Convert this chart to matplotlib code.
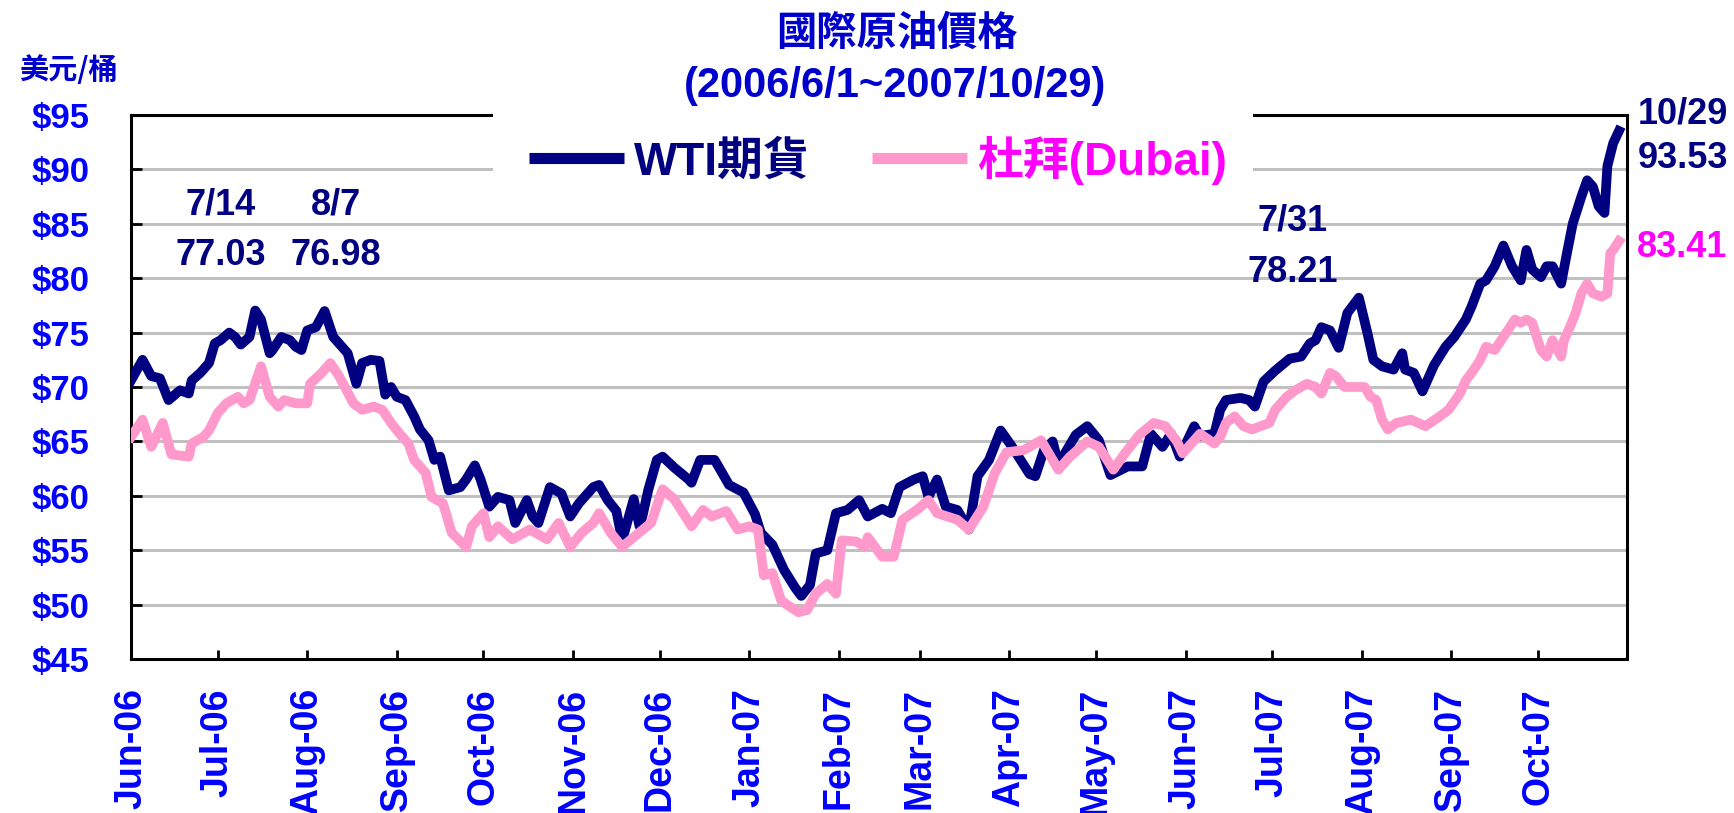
import pandas as pd
import matplotlib
matplotlib.use("Agg")
import matplotlib.pyplot as plt
from matplotlib.patches import Rectangle
from matplotlib.lines import Line2D
from matplotlib.font_manager import FontProperties

# days counted from 2006-06-01, values in US$ per barrel
start = pd.Timestamp("2006-06-01")

wti_day = [0, 4, 7, 10, 13, 17, 20, 21, 24, 27, 29, 31, 34, 36, 38, 41, 43, 45, 48, 49,
           52, 55, 57, 59, 61, 64, 67, 70, 73, 75, 78, 80, 83, 86, 88, 90, 92, 95, 98, 100,
           103, 105, 107, 110, 114, 116, 119, 121, 124, 127, 131, 133, 137, 139, 141, 145,
           149, 152, 155, 157, 160, 162, 165, 168, 170, 174, 176, 177, 179, 182, 184, 188,
           193, 194, 197, 202, 207, 212, 216, 218, 222, 226, 230, 232, 235, 237, 241, 244,
           248, 252, 255, 260, 263, 266, 271, 274, 276, 279, 282, 286, 290, 293, 297, 301,
           305, 311, 313, 316, 319, 321, 327, 331, 335, 339, 345, 350, 353, 357, 360, 363,
           368, 370, 375, 377, 379, 384, 387, 389, 392, 396, 401, 405, 408, 410, 412, 415,
           418, 421, 425, 428, 430, 433, 437, 440, 441, 444, 447, 451, 455, 458, 462, 464,
           467, 469, 472, 475, 478, 481, 483, 485, 488, 490, 492, 495, 497, 499, 502, 504,
           506, 508, 510, 511, 513, 515]
wti_price = [70.6, 72.5, 71.0, 70.8, 68.8, 69.7, 69.4, 70.6, 71.3, 72.2, 74.0, 74.3, 75.0, 74.6,
             73.9, 74.6, 77.03, 76.2, 73.1, 73.4, 74.6, 74.3, 73.7, 73.4, 75.2, 75.5, 76.98,
             74.6, 73.7, 73.1, 70.3, 72.2, 72.5, 72.4, 69.3, 70.0, 69.1, 68.8, 67.3, 66.1,
             65.1, 63.3, 63.6, 60.5, 60.8, 61.5, 62.8, 61.5, 59.0, 59.9, 59.6, 57.5, 59.6,
             58.1, 57.5, 60.8, 60.2, 58.1, 59.3, 59.9, 60.8, 61.0, 59.6, 58.6, 55.9, 59.7,
             57.2, 58.1, 60.5, 63.3, 63.6, 62.6, 61.5, 61.2, 63.3, 63.3, 61.0, 60.3, 58.3,
             56.6, 55.5, 53.2, 51.5, 50.8, 51.8, 54.7, 55.0, 58.4, 58.7, 59.6, 58.1, 58.8,
             58.4, 60.8, 61.5, 61.8, 59.9, 61.5, 59.0, 58.7, 56.9, 61.8, 63.3, 66.0, 64.5,
             62.0, 61.8, 64.2, 65.0, 62.9, 65.6, 66.4, 65.1, 61.9, 62.7, 62.7, 65.7, 64.5,
             65.7, 63.6, 66.4, 65.5, 65.7, 67.9, 68.8, 69.0, 68.8, 68.2, 70.5, 71.5, 72.6,
             72.8, 74.0, 74.3, 75.5, 75.2, 73.6, 76.8, 78.21, 74.9, 72.5, 71.9, 71.6, 73.1,
             71.6, 71.3, 69.6, 72.0, 73.7, 74.6, 76.2, 77.4, 79.5, 79.8, 81.1, 83.0, 81.1,
             79.8, 82.6, 80.8, 80.1, 81.1, 81.1, 79.5, 82.3, 85.0, 87.5, 89.0, 88.4, 86.6,
             86.0, 90.3, 92.4, 93.53]

dubai_day = [0, 4, 7, 11, 14, 20, 21, 25, 27, 30, 33, 37, 39, 41, 45, 48, 51, 53, 57, 61,
             62, 66, 69, 72, 74, 77, 80, 84, 87, 90, 93, 96, 98, 102, 104, 108, 111, 116,
             118, 122, 124, 127, 132, 138, 144, 148, 152, 156, 160, 162, 166, 170, 174, 180,
             184, 188, 194, 198, 201, 206, 210, 214, 217, 219, 222, 225, 227, 231, 234, 237,
             241, 244, 246, 251, 254, 255, 260, 264, 267, 272, 276, 279, 286, 290, 295, 299,
             303, 309, 315, 319, 321, 325, 331, 335, 340, 344, 349, 354, 358, 362, 364, 368,
             370, 375, 377, 379, 382, 385, 388, 391, 394, 396, 400, 403, 407, 410, 412, 415,
             417, 420, 423, 427, 429, 431, 433, 435, 438, 443, 448, 453, 456, 460, 462, 464,
             467, 469, 472, 475, 479, 481, 483, 485, 488, 490, 492, 495, 496, 498, 500, 502,
             504, 506, 509, 511, 512, 513, 515]
dubai_price = [65.4, 67.0, 64.5, 66.7, 63.8, 63.6, 64.8, 65.4, 66.0, 67.6, 68.5, 69.1, 68.5,
               68.8, 71.9, 69.1, 68.2, 68.8, 68.5, 68.5, 70.3, 71.3, 72.2, 71.0, 70.0, 68.5,
               67.9, 68.2, 67.9, 66.7, 65.7, 64.8, 63.3, 62.1, 59.9, 59.3, 56.6, 55.3, 57.2,
               58.4, 56.2, 57.2, 56.0, 56.9, 56.0, 57.5, 55.3, 56.6, 57.5, 58.4, 56.6, 55.3,
               56.2, 57.5, 60.6, 59.7, 57.2, 58.7, 58.1, 58.6, 56.9, 57.2, 56.9, 52.7, 52.9,
               50.4, 50.0, 49.3, 49.5, 51.0, 51.9, 51.0, 55.9, 55.8, 55.3, 56.2, 54.4, 54.4,
               57.8, 58.7, 59.6, 58.4, 57.8, 56.9, 59.0, 62.1, 64.0, 64.2, 65.1, 63.3, 62.4,
               63.6, 65.0, 64.5, 62.4, 63.9, 65.6, 66.7, 66.4, 65.0, 63.9, 65.1, 65.7, 64.8,
               65.4, 66.7, 67.3, 66.4, 66.1, 66.4, 66.7, 67.9, 69.1, 69.7, 70.3, 70.0, 69.4,
               71.3, 71.0, 70.0, 70.0, 70.0, 69.1, 68.8, 67.0, 66.1, 66.7, 67.0, 66.4, 67.3,
               67.9, 69.4, 70.6, 71.3, 72.5, 73.7, 73.4, 74.6, 76.2, 75.9, 76.2, 75.9, 73.4,
               72.8, 74.3, 72.8, 74.3, 75.5, 76.8, 78.6, 79.5, 78.6, 78.3, 78.6, 82.3, 82.6,
               83.41]

month_ticks = ["2006-06-01", "2006-07-01", "2006-08-01", "2006-09-01", "2006-10-01",
               "2006-11-01", "2006-12-01", "2007-01-01", "2007-02-01", "2007-03-01",
               "2007-04-01", "2007-05-01", "2007-06-01", "2007-07-01", "2007-08-01",
               "2007-09-01", "2007-10-01"]
month_labels = ["Jun-06", "Jul-06", "Aug-06", "Sep-06", "Oct-06", "Nov-06", "Dec-06",
                "Jan-07", "Feb-07", "Mar-07", "Apr-07", "May-07", "Jun-07", "Jul-07",
                "Aug-07", "Sep-07", "Oct-07"]
y_ticks = [45, 50, 55, 60, 65, 70, 75, 80, 85, 90, 95]
y_labels = ["$45", "$50", "$55", "$60", "$65", "$70", "$75", "$80", "$85", "$90", "$95"]

LATIN = "Liberation Sans"
CJK = "Noto Sans CJK TC"
NAVY = "#000080"
PINK = "#FF99CC"
BLUE = "#0000FF"
TITLE_BLUE = "#0000CC"

W, H = 1734, 813
fig = plt.figure(figsize=(W / 100, H / 100), dpi=100)
ax = fig.add_axes([131 / W, 1 - 659 / H, 1496 / W, 544 / H])

wti_dates = start + pd.to_timedelta(wti_day, unit="D")
dubai_dates = start + pd.to_timedelta(dubai_day, unit="D")
ax.plot(wti_dates, wti_price, color=NAVY, lw=7, zorder=3)
ax.plot(dubai_dates, dubai_price, color=PINK, lw=7, zorder=4)

ax.set_xlim(start, pd.Timestamp("2007-10-31 19:00"))
ax.set_ylim(45, 95)

ax.set_xticks(pd.to_datetime(month_ticks))
ax.set_xticklabels(month_labels, rotation=90, family=LATIN, fontweight="bold",
                   fontsize=27, color=BLUE)
ax.set_yticks(y_ticks)
ax.set_yticklabels(y_labels, family=LATIN, fontweight="bold", fontsize=25, color=BLUE)
ax.tick_params(axis="x", direction="in", length=6.5, width=2, pad=21)
ax.tick_params(axis="y", direction="in", length=8, width=2, pad=30)

ax.yaxis.grid(True, color="#C0C0C0", lw=2.2)
ax.set_axisbelow(True)
for sp in ax.spines.values():
    sp.set_color("black")
    sp.set_linewidth(2.2)

# point labels
lab = dict(family=LATIN, fontweight="bold", fontsize=26, ha="center", va="baseline",
           clip_on=False, zorder=6)
ax.text(pd.Timestamp("2006-07-02"), 85.9, "7/14", color=NAVY, **lab)
ax.text(pd.Timestamp("2006-07-02"), 81.2, "77.03", color=NAVY, **lab)
ax.text(pd.Timestamp("2006-08-11"), 85.9, "8/7", color=NAVY, **lab)
ax.text(pd.Timestamp("2006-08-11"), 81.2, "76.98", color=NAVY, **lab)
ax.text(pd.Timestamp("2007-07-08"), 84.4, "7/31", color=NAVY, **lab)
ax.text(pd.Timestamp("2007-07-08"), 79.65, "78.21", color=NAVY, **lab)
ax.text(pd.Timestamp("2007-11-20"), 94.26, "10/29", color=NAVY, **lab)
ax.text(pd.Timestamp("2007-11-20"), 90.13, "93.53", color=NAVY, **lab)
ax.text(pd.Timestamp("2007-11-20"), 81.95, "83.41", color="#FF00FF", **lab)

# titles
fig.text(897 / W, 1 - 33 / H, "國際原油價格", ha="center", va="center", family=CJK,
         fontweight="bold", fontsize=29, color=TITLE_BLUE)
fig.text(895 / W, 1 - 97 / H, "(2006/6/1~2007/10/29)", ha="center", va="baseline",
         family=LATIN, fontweight="bold", fontsize=30, color=TITLE_BLUE)
fig.text(68 / W, 1 - 70 / H, "美元/桶", ha="center", va="center", family=CJK,
         fontweight="bold", fontsize=21, color=TITLE_BLUE)

# legend sits on a white box over the top of the plot area
fig.patches.append(Rectangle((493 / W, 1 - 205 / H), 760 / W, 97 / H,
                             transform=fig.transFigure, facecolor="white",
                             edgecolor="none", zorder=5))
handles = [Line2D([], [], color=NAVY, lw=8, solid_capstyle="butt"),
           Line2D([], [], color=PINK, lw=8, solid_capstyle="butt")]
leg = fig.legend(handles, ["WTI期貨", "杜拜(Dubai)"], loc="center",
                 bbox_to_anchor=(878 / W, 1 - 160 / H), ncol=2, frameon=False,
                 prop=FontProperties(family=[LATIN, CJK], weight="bold", size=33),
                 handlelength=2.07, handletextpad=0.22, columnspacing=1.35)
leg.set_zorder(6)
for t, c in zip(leg.get_texts(), [NAVY, "#FF00FF"]):
    t.set_color(c)

fig.savefig("out.png", dpi=100)
